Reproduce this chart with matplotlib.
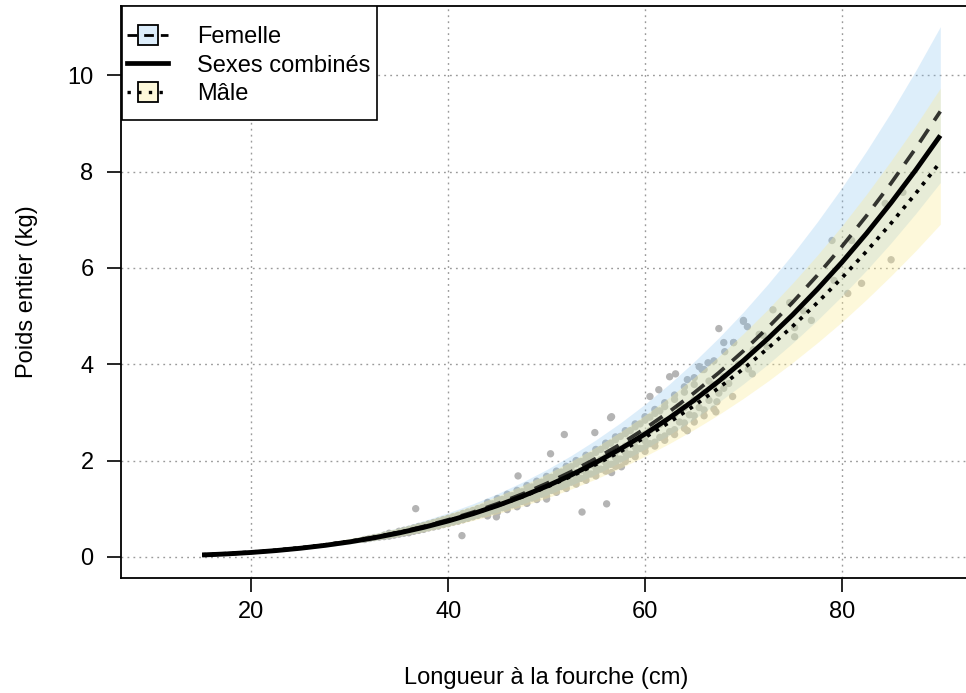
import matplotlib
matplotlib.use("Agg")
import matplotlib.pyplot as plt
from matplotlib.lines import Line2D
from matplotlib.patches import Rectangle

plt.rcParams['font.family'] = ['Liberation Sans', 'DejaVu Sans']

# ---- data ----
length_grid = [15, 17.5, 20, 22.5, 25, 27.5, 30, 32.5, 35, 37.5, 40, 42.5, 45, 47.5, 50,
               52.5, 55, 57.5, 60, 62.5, 65, 67.5, 70, 72.5, 75, 77.5, 80, 82.5, 85, 87.5, 90]
combined = [0.0377, 0.0602, 0.0905, 0.1293, 0.1782, 0.2380, 0.3101, 0.3957, 0.4956, 0.611,
            0.744, 0.894, 1.064, 1.254, 1.465, 1.700, 1.958, 2.242, 2.551, 2.888, 3.254,
            3.649, 4.076, 4.535, 5.027, 5.555, 6.116, 6.716, 7.354, 8.032, 8.75]
female = [0.0378, 0.0606, 0.0914, 0.1312, 0.181, 0.2429, 0.317, 0.4055, 0.509, 0.6293,
          0.768, 0.9242, 1.102, 1.3003, 1.522, 1.768, 2.040, 2.338, 2.664, 3.020, 3.407,
          3.824, 4.276, 4.763, 5.285, 5.845, 6.444, 7.082, 7.76, 8.484, 9.25]
female_hi = [0.045, 0.0721, 0.108, 0.1561, 0.215, 0.2891, 0.377, 0.4825, 0.606, 0.7489,
             0.914, 1.0998, 1.311, 1.5474, 1.811, 2.104, 2.428, 2.782, 3.170, 3.594, 4.054,
             4.551, 5.088, 5.668, 6.289, 6.956, 7.668, 8.428, 9.234, 10.096, 11.01]
female_lo = [0.032, 0.0509, 0.076, 0.1102, 0.152, 0.2041, 0.266, 0.3407, 0.428, 0.5288,
             0.645, 0.7766, 0.926, 1.0927, 1.279, 1.4857, 1.714, 1.9646, 2.239, 2.5377, 2.863,
             3.2133, 3.593, 4.0024, 4.441, 4.9116, 5.415, 5.951, 6.521, 7.129, 7.773]
male = [0.042, 0.0654, 0.097, 0.1373, 0.187, 0.2482, 0.321, 0.4063, 0.506, 0.6197,
        0.750, 0.8965, 1.061, 1.2446, 1.448, 1.672, 1.918, 2.187, 2.480, 2.797, 3.140,
        3.509, 3.907, 4.333, 4.789, 5.276, 5.793, 6.344, 6.928, 7.546, 8.2]
male_hi = [0.050, 0.0776, 0.115, 0.1630, 0.222, 0.2946, 0.381, 0.4823, 0.601, 0.7356,
           0.890, 1.0641, 1.259, 1.4773, 1.719, 1.985, 2.277, 2.596, 2.944, 3.320, 3.727,
           4.165, 4.638, 5.143, 5.686, 6.263, 6.873, 7.530, 8.226, 8.957, 9.733]
male_lo = [0.035, 0.0551, 0.082, 0.1157, 0.158, 0.2091, 0.270, 0.3423, 0.426, 0.5221,
           0.632, 0.7553, 0.894, 1.0486, 1.220, 1.4087, 1.616, 1.8425, 2.089, 2.356, 2.645,
           2.956, 3.292, 3.651, 4.036, 4.445, 4.878, 5.345, 5.838, 6.357, 6.908]

obs_length = [
    31.5, 32, 32.5, 33, 33.5, 33.5, 34, 34, 34, 34.5, 34.5, 35, 35, 35, 35.5, 35.5, 35.5,
    36, 36, 36, 36.5, 36.5, 36.5, 37, 37, 37, 37.5, 37.5, 37.5, 38, 38, 38, 38.5, 38.5, 38.5,
    39, 39, 39, 39.5, 39.5, 39.5, 40, 40, 40, 40.5, 40.5, 40.5, 41, 41, 41, 41.5, 41.5, 41.5,
    42, 42, 42, 42.5, 42.5, 42.5, 43, 43, 43, 43.5, 43.5, 43.5, 44, 44, 44, 44.5, 44.5, 44.5,
    45, 45, 45, 45.5, 45.5, 45.5, 46, 46, 46, 46, 46.5, 46.5, 46.5, 47, 47, 47, 47,
    47.5, 47.5, 47.5, 48, 48, 48, 48, 48.5, 48.5, 48.5, 49, 49, 49, 49, 49.5, 49.5, 49.5,
    50, 50, 50, 50, 50.5, 50.5, 50.5, 51, 51, 51, 51, 51.5, 51.5, 51.5, 52, 52, 52, 52,
    52.5, 52.5, 52.5, 53, 53, 53, 53, 53.5, 53.5, 53.5, 54, 54, 54, 54, 54.5, 54.5, 54.5,
    55, 55, 55, 55, 55.5, 55.5, 55.5, 56, 56, 56, 56, 56.5, 56.5, 56.5, 57, 57, 57, 57,
    57.5, 57.5, 57.5, 58, 58, 58, 58, 58.5, 58.5, 58.5, 59, 59, 59, 59, 59.5, 59.5, 59.5,
    60, 60, 60, 60, 60.5, 60.5, 60.5, 61, 61, 61, 61.5, 61.5, 61.5, 62, 62, 62, 62.5,
    63, 63, 63, 63.5, 63.5, 64, 64, 64, 64.5, 65, 65, 65, 65.5, 66, 66, 66.5, 66.5, 67,
    67.5, 68, 68,
    44, 44, 45, 45, 46, 46, 47, 47, 48, 48, 49, 49, 50, 50, 51, 51, 52, 52, 53, 53,
    54, 54, 55, 55, 56, 56, 57, 57, 58, 58, 59, 59, 60, 60, 61, 61, 62, 62, 63, 63,
    64, 64, 65, 65, 66, 66, 67, 67, 68.5, 69.5, 70.5, 71, 72,
    36.7, 41.4, 44.9, 47.1, 50.0, 51.8, 50.4, 53.6, 56.1, 56.5, 54.9, 57.6, 56.6,
    67.5, 70.0, 70.4, 79.0, 81.0, 85.0, 82.0, 80.6, 79.2, 76.9, 75.2, 75.2, 76.1,
    74.7, 73.0, 72.4, 70.9, 68.9, 68.1, 68.0, 69.0, 62.5, 63.1, 61.4, 60.5, 56.6,
    64.3, 67.2, 67.3, 65.5, 65.8, 64.3, 66.4, 86.2, 84.4, 71.6, 70.0, 69.0]
obs_weight = [
    0.36, 0.38, 0.40, 0.41, 0.42, 0.45, 0.43, 0.46, 0.49, 0.45, 0.48, 0.47, 0.50, 0.53, 0.49, 0.52, 0.55,
    0.50, 0.54, 0.57, 0.53, 0.56, 0.60, 0.55, 0.59, 0.63, 0.57, 0.61, 0.65, 0.60, 0.64, 0.68, 0.62, 0.66, 0.71,
    0.64, 0.69, 0.74, 0.67, 0.72, 0.77, 0.69, 0.74, 0.80, 0.72, 0.77, 0.83, 0.74, 0.80, 0.86, 0.77, 0.83, 0.90,
    0.80, 0.86, 0.93, 0.83, 0.89, 0.96, 0.86, 0.93, 1.00, 0.89, 0.96, 1.03, 0.92, 0.99, 1.07, 0.95, 1.03, 1.10,
    0.98, 1.06, 1.15, 1.02, 1.10, 1.19, 1.04, 1.13, 1.23, 1.08, 1.08, 1.17, 1.27, 1.11, 1.21, 1.31, 1.16,
    1.15, 1.25, 1.35, 1.18, 1.29, 1.40, 1.24, 1.22, 1.33, 1.45, 1.26, 1.37, 1.50, 1.31, 1.30, 1.42, 1.55,
    1.33, 1.46, 1.60, 1.40, 1.38, 1.51, 1.65, 1.41, 1.55, 1.70, 1.48, 1.46, 1.60, 1.76, 1.49, 1.65, 1.81, 1.57,
    1.55, 1.70, 1.87, 1.57, 1.75, 1.93, 1.66, 1.63, 1.80, 1.98, 1.66, 1.85, 2.04, 1.75, 1.72, 1.91, 2.10,
    1.75, 1.96, 2.17, 1.85, 1.82, 2.02, 2.23, 1.84, 2.07, 2.30, 1.96, 1.92, 2.13, 2.36, 1.94, 2.18, 2.43, 2.06,
    2.03, 2.24, 2.50, 2.05, 2.30, 2.56, 2.17, 2.13, 2.36, 2.62, 2.15, 2.42, 2.70, 2.28, 2.25, 2.49, 2.76,
    2.27, 2.55, 2.84, 2.41, 2.35, 2.62, 2.90, 2.38, 2.68, 2.98, 2.48, 2.75, 3.03, 2.51, 2.81, 3.12, 2.60,
    2.64, 2.95, 3.27, 2.80, 3.12, 2.78, 3.10, 3.42, 2.95, 2.93, 3.26, 3.58, 3.10, 3.05, 3.41, 3.25, 3.65, 3.57,
    3.40, 3.74, 3.50,
    0.85, 1.13, 0.92, 1.21, 0.98, 1.30, 1.04, 1.38, 1.11, 1.48, 1.19, 1.57, 1.26, 1.67, 1.34, 1.78,
    1.42, 1.88, 1.51, 2.00, 1.59, 2.11, 1.68, 2.23, 1.78, 2.36, 1.88, 2.49, 1.98, 2.62, 2.08, 2.76,
    2.19, 2.91, 2.30, 3.06, 2.42, 3.20, 2.54, 3.36, 2.67, 3.53, 2.80, 3.72, 2.93, 3.89, 3.07, 4.07,
    3.60, 4.00, 3.90, 4.30, 4.60,
    1.00, 0.44, 0.83, 1.68, 1.20, 2.54, 2.14, 0.93, 1.10, 2.89, 2.58, 1.87, 1.75,
    4.74, 4.91, 4.78, 6.57, 6.57, 6.17, 5.68, 5.47, 5.74, 4.91, 4.57, 4.76, 5.11,
    5.28, 5.13, 4.37, 3.80, 3.33, 4.26, 4.45, 4.45, 3.74, 3.80, 3.47, 3.33, 2.91,
    2.62, 3.01, 3.22, 3.95, 3.89, 3.68, 4.03, 7.57, 7.34, 4.62, 4.89, 4.45]

x_ticks = [20, 40, 60, 80]
y_ticks = [0, 2, 4, 6, 8, 10]
xlabel = "Longueur à la fourche (cm)"
ylabel = "Poids entier (kg)"
labels = ["Femelle", "Sexes combinés", "Mâle"]

# ---- styling ----
blue = (135/255, 195/255, 240/255)
yellow = (250/255, 235/255, 150/255)
blue_leg = '#dcedfb'
yellow_leg = '#fdf8da'
FS = 17

W, H = 966, 693
fig = plt.figure(figsize=(W/100, H/100), dpi=100)
ax = fig.add_axes([121.4/W, 115/H, (971.8-121.4)/W, (687-115)/H])

ax.set_xlim(6.8, 93.2)
ax.set_ylim(-0.44, 11.44)

for xt in x_ticks:
    ax.axvline(xt, color='#9a9a9a', lw=1.0, ls=(0, (1.3, 3.0)), zorder=0)
for yt in y_ticks:
    ax.axhline(yt, color='#9a9a9a', lw=1.0, ls=(0, (1.3, 3.0)), zorder=0)

ax.scatter(obs_length, obs_weight, s=28, color='#b4b4b4', edgecolors='none', zorder=1)

ax.fill_between(length_grid, female_lo, female_hi, color=blue, alpha=0.28, lw=0, zorder=2)
ax.fill_between(length_grid, male_lo, male_hi, color=yellow, alpha=0.35, lw=0, zorder=2)

ax.plot(length_grid, female, color='black', alpha=0.78, lw=2.7, ls=(0, (4.2, 2.8)), zorder=3)
ax.plot(length_grid, male, color='black', lw=2.7, ls=(0, (1.0, 1.7)), zorder=3)
ax.plot(length_grid, combined, color='black', lw=3.5, solid_capstyle='butt', zorder=4)

ax.set_xticks(x_ticks)
ax.set_yticks(y_ticks)
ax.tick_params(axis='both', length=10, width=1.2, labelsize=FS, color='black')
ax.tick_params(axis='x', pad=6.5)
ax.tick_params(axis='y', pad=10)
for sp in ax.spines.values():
    sp.set_linewidth(1.3)
ax.set_xlabel(xlabel, fontsize=FS, labelpad=32)
ax.set_ylabel(ylabel, fontsize=FS, labelpad=21)

# legend frame drawn separately (R-style box)
frame = Rectangle((122/W, (H-120)/H), 255/W, 114/H, transform=fig.transFigure,
                  facecolor='white', edgecolor='black', lw=1.2, zorder=9)
ax.add_artist(frame)

h_f = (Line2D([], [], color='black', ls='none', marker='s', markersize=14.5,
              markerfacecolor=blue_leg, markeredgecolor='black', markeredgewidth=1.3),
       Line2D([], [], color='black', lw=2.0, ls=(0, (3.5, 2.5))))
h_c = Line2D([], [], color='black', lw=3.4)
h_m = (Line2D([], [], color='black', ls='none', marker='s', markersize=14.5,
              markerfacecolor=yellow_leg, markeredgecolor='black', markeredgewidth=1.3),
       Line2D([], [], color='black', lw=2.4, ls=(0, (1.0, 2.2))))
leg = ax.legend([h_f, h_c, h_m], labels, loc='upper left',
                bbox_to_anchor=(127/W, (H-26)/H), bbox_transform=fig.transFigure,
                borderaxespad=0, fontsize=FS, frameon=False, handlelength=1.75,
                handletextpad=1.2, labelspacing=0.28, borderpad=0)
leg.set_zorder(10)

fig.savefig('out.png', dpi=100)
